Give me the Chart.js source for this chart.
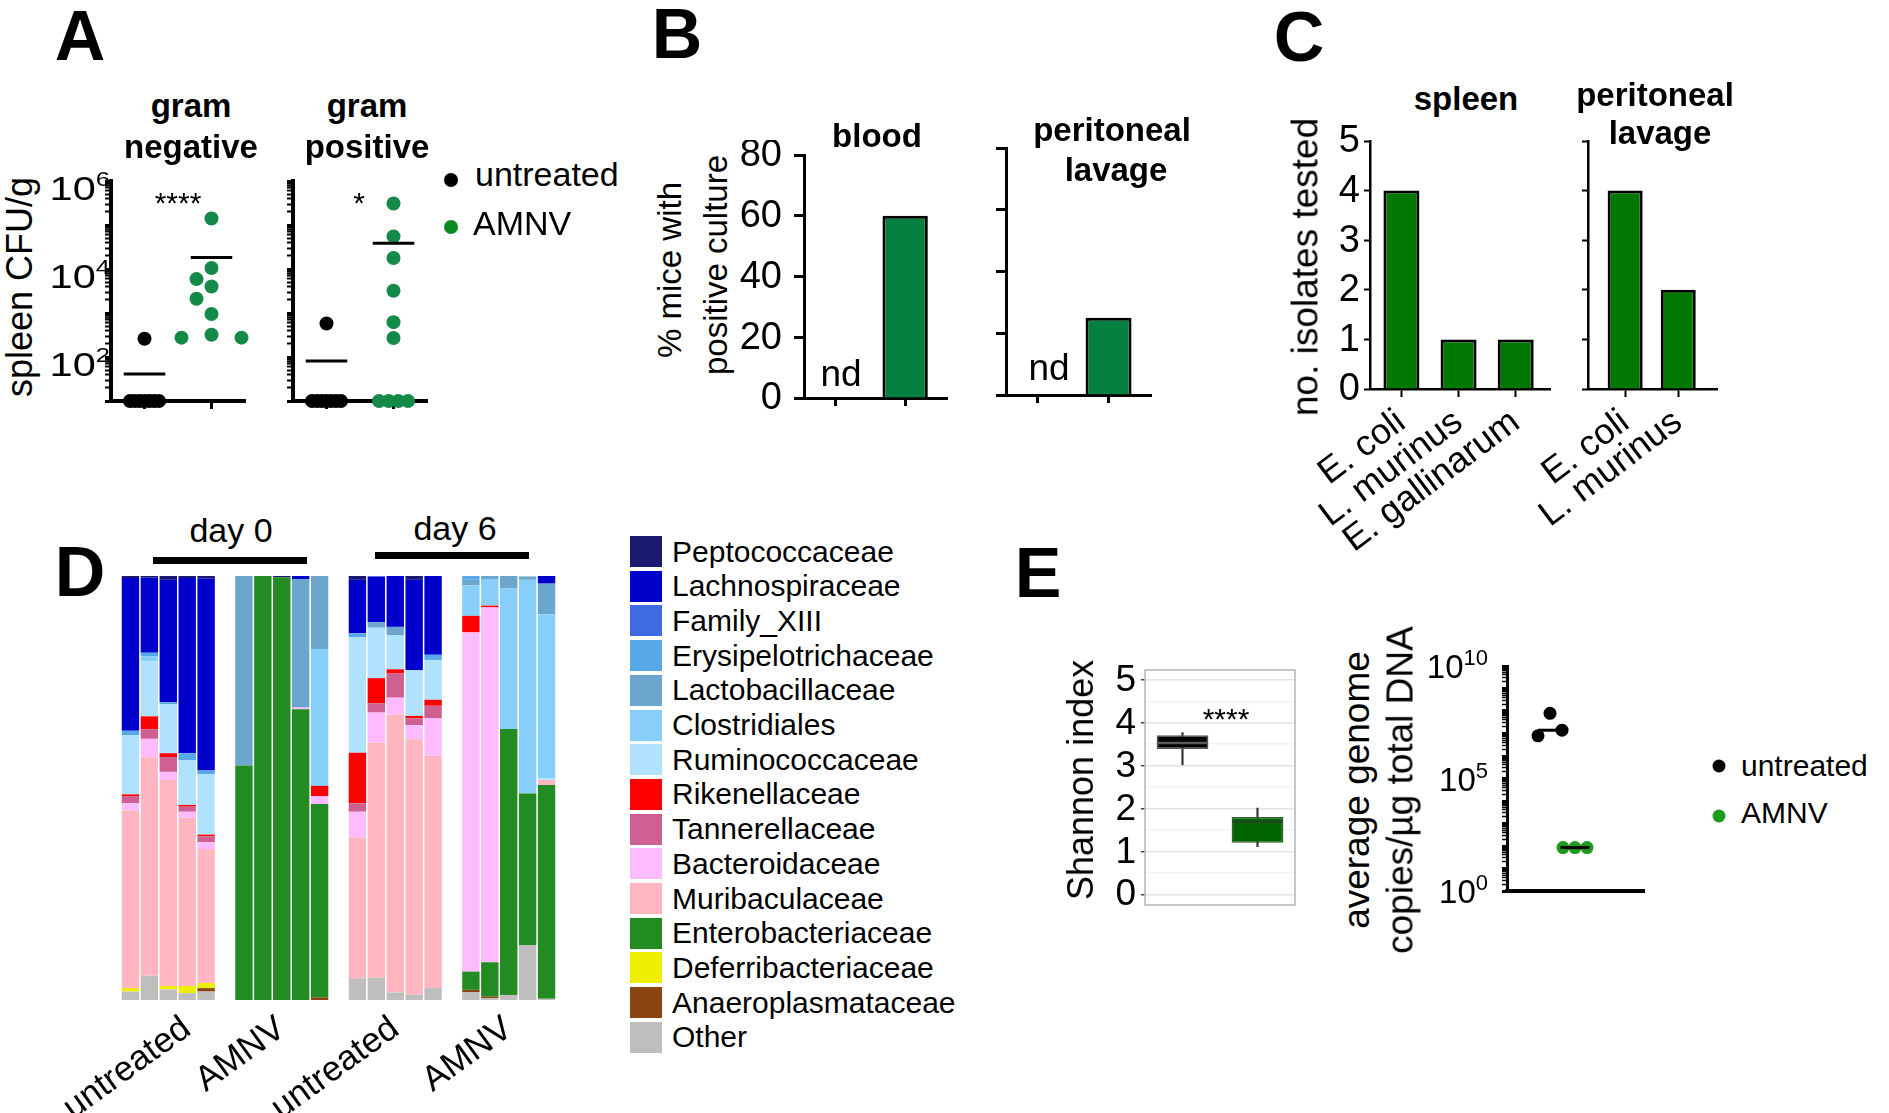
<!DOCTYPE html>
<html>
<head>
<meta charset="utf-8">
<script src="https://cdn.jsdelivr.net/npm/chart.js@4.4.1/dist/chart.umd.min.js"></script>
<style>
  html, body { margin: 0; padding: 0; background: #fff; }
  #fig { position: relative; width: 1889px; height: 1113px; overflow: hidden;
         font-family: "Liberation Sans", Arial, sans-serif; color: #000; }
  #fig canvas { position: absolute; }
  .t { position: absolute; transform: translate(-50%, -50%); white-space: nowrap; line-height: 1; }
  .v { position: absolute; transform: translate(-50%, -50%) rotate(-90deg); white-space: nowrap; line-height: 1; }
  .l { position: absolute; transform: translate(0, -50%); white-space: nowrap; line-height: 1; }
  .dot { position: absolute; border-radius: 50%; transform: translate(-50%, -50%); }
  .blk { position: absolute; }
</style>
</head>
<body>
<div id="fig"></div>
<script>
// ---- data ----
// A: spleen CFU/g per mouse
const gramNegUntreated = [260, 10, 10, 10, 10, 10, 10, 10];
const gramNegAMNV = [141000, 10500, 5900, 4000, 2100, 950, 320, 275, 275];
const gramPosUntreated = [575, 10, 10, 10, 10, 10, 10, 10];
const gramPosAMNV = [309000, 55000, 17800, 3200, 620, 270, 10, 10, 10, 10];
const cfuExps = [2, 4, 6];

// B: % mice with positive culture
const groups = ['untreated', 'AMNV'];
const bloodPct = [0, 60];
const lavagePct = [0, 25];
const pctTicks = [0, 20, 40, 60, 80];

// C: isolates tested
const spleenSpecies = ['E. coli', 'L. murinus', 'E. gallinarum'];
const spleenCounts = [4, 1, 1];
const lavageSpecies = ['E. coli', 'L. murinus'];
const lavageCounts = [4, 2];
const isoTicks = [0, 1, 2, 3, 4, 5];

// D: relative abundance (%), 5 mice per group: untreated d0, AMNV d0, untreated d6, AMNV d6
const groupNames = ['untreated', 'AMNV', 'untreated', 'AMNV'];
const families = ['Peptococcaceae', 'Lachnospiraceae', 'Family_XIII', 'Erysipelotrichaceae',
  'Lactobacillaceae', 'Clostridiales', 'Ruminococcaceae', 'Rikenellaceae', 'Tannerellaceae',
  'Bacteroidaceae', 'Muribaculaceae', 'Enterobacteriaceae', 'Deferribacteriaceae',
  'Anaeroplasmataceae', 'Other'];
const familyColors = ['#191970', '#0000CD', '#4169E1', '#56A8E8', '#6CA6CD', '#87CEFA', '#B0E2FF',
  '#FF0000', '#CD6090', '#FFBBFF', '#FFB6C1', '#228B22', '#EEEE00', '#8B4513', '#BEBEBE'];
const peptococcaceae      = [0.5, 0.5, 0.9, 0.5, 0.7,  0, 0, 0.3, 0, 0,        0.9, 0, 0, 0.9, 0,            0, 0, 0, 0, 0];
const lachnospiraceae     = [36, 17.7, 28.9, 41.3, 45.3,  0, 0, 0, 0.7, 0,     12.6, 10.8, 12, 21.3, 18.6,    0, 0, 0, 0, 1.8];
const familyXIII          = [0, 0, 0, 0, 0,  0, 0, 0, 0, 0,                    0, 0, 0, 0, 0,                 0, 0, 0, 0, 0];
const erysipelotrichaceae = [1, 0.8, 0.4, 1.7, 0.8,  0, 0, 0, 0, 0,            0.9, 0, 0, 0, 1.2,             0.9, 0, 0, 0, 0];
const lactobacillaceae    = [0, 0, 0, 0, 0,  44.7, 0, 0, 30.3, 17.2,           0, 1.3, 2, 0, 0,               1.3, 0.8, 3, 0.8, 7.2];
const clostridiales       = [0, 1.2, 0, 0, 0,  0, 0, 0, 0, 32.3,               0, 0, 0, 0, 0,                 7.2, 6.3, 33.2, 50.4, 38.7];
const ruminococcaceae     = [14, 13, 11.6, 10.5, 14.3,  0, 0, 0, 0, 0,         27.3, 11.9, 8, 10.8, 9.4,      0, 0, 0, 0, 0.4];
const rikenellaceae       = [0.4, 3, 0.9, 0.4, 0.4,  0, 0, 0, 0, 2.4,          11.9, 5.9, 1, 0.6, 1.4,        3.9, 0.4, 0, 0, 0];
const tannerellaceae      = [1.7, 2.3, 3.5, 1.2, 1.4,  0, 0, 0, 0, 0,          2, 2.2, 5.7, 1.6, 3,           0, 0, 0, 0, 0];
const bacteroidaceae      = [1.7, 4.4, 1.9, 1.4, 1.6,  0, 0, 0, 0.4, 1.9,      6.1, 7.1, 4, 3.3, 8.8,         80, 83.7, 0, 0, 0];
const muribaculaceae      = [41.9, 51.5, 48.6, 39.7, 31.6,  0, 0, 0, 0, 0,     33.2, 55.4, 65.5, 60.2, 54.8,  0, 0, 0, 0, 1.2];
const enterobacteriaceae  = [0, 0, 0, 0, 0,  55.3, 100, 99.7, 68.6, 45.6,      0, 0, 0, 0, 0,                 4.3, 8.1, 62.7, 35.7, 50.4];
const deferribacteriaceae = [0.8, 0, 0.8, 1.7, 1.2,  0, 0, 0, 0, 0,            0, 0, 0, 0, 0,                 0, 0, 0, 0, 0];
const anaeroplasmataceae  = [0, 0, 0, 0, 0.8,  0, 0, 0, 0, 0.6,                0, 0, 0, 0, 0,                 0.6, 0.4, 0, 0, 0];
const other               = [2, 5.7, 2.5, 1.6, 2,  0, 0, 0, 0, 0,              5.1, 5.3, 1.8, 1.3, 2.8,       1.8, 0.4, 1.2, 13, 0.3];
const familyValues = [peptococcaceae, lachnospiraceae, familyXIII, erysipelotrichaceae,
  lactobacillaceae, clostridiales, ruminococcaceae, rikenellaceae, tannerellaceae,
  bacteroidaceae, muribaculaceae, enterobacteriaceae, deferribacteriaceae,
  anaeroplasmataceae, other];

// E: Shannon index box stats and genome copies
const shannonMin = [3.02, 1.11];
const shannonQ1 = [3.39, 1.20];
const shannonMedian = [3.53, 1.69];
const shannonQ3 = [3.71, 1.80];
const shannonMax = [3.77, 2.01];
const shannonTicks = [0, 1, 2, 3, 4, 5];
const genomeUntreated = [7.9e7, 7.9e6, 1.4e7];
const genomeAMNV = [85, 85, 85];
const genomeExps = [0, 5, 10];

// ---- helpers ----
const FONT = '"Liberation Sans", Arial, sans-serif';
Chart.defaults.font.family = FONT;
Chart.defaults.color = '#000';
const fig = document.getElementById('fig');

function canvasAt(left, top, w, h) {
  const c = document.createElement('canvas');
  c.width = w; c.height = h;
  c.style.left = left + 'px'; c.style.top = top + 'px';
  c.style.width = w + 'px'; c.style.height = h + 'px';
  fig.appendChild(c);
  return c;
}
function html(cls, text, x, y, size, bold) {
  const d = document.createElement('div');
  d.className = cls;
  d.textContent = text;
  d.style.left = x + 'px'; d.style.top = y + 'px';
  d.style.fontSize = size + 'px';
  if (bold) d.style.fontWeight = 'bold';
  fig.appendChild(d);
  return d;
}
function dot(x, y, r, color) {
  const d = document.createElement('div');
  d.className = 'dot';
  d.style.cssText = `left:${x}px;top:${y}px;width:${2 * r}px;height:${2 * r}px;background:${color}`;
  fig.appendChild(d);
}
function rule(x1, x2, y, h) {
  const d = document.createElement('div');
  d.className = 'blk';
  d.style.cssText = `left:${x1}px;top:${y - h / 2}px;width:${x2 - x1}px;height:${h}px;background:#000`;
  fig.appendChild(d);
}
const fixW = w => s => { s.width = w; };
const fixH = h => s => { s.height = h; };
const at = vals => s => { s.ticks = vals.map(v => ({ value: v })); };
const isPow10 = v => Math.abs(Math.log10(v) - Math.round(Math.log10(v))) < 1e-9;
function logTicks(e0, e1) {
  const t = [];
  for (let e = e0; e < e1; e++) for (let m = 1; m < 10; m++) t.push(m * Math.pow(10, e));
  t.push(Math.pow(10, e1));
  return t;
}
const mean = a => a.reduce((p, q) => p + q, 0) / a.length;
const median = a => { const s = [...a].sort((p, q) => p - q); const n = s.length; return n % 2 ? s[(n - 1) / 2] : (s[n / 2 - 1] + s[n / 2]) / 2; };

// simple beeswarm: offsets (axis units) so dots do not overlap, ties spread evenly
function swarm(vals, pxX, pxY, first, step, minDist) {
  const v = vals.map(a => Math.log10(a));
  const counts = {};
  v.forEach(a => { counts[a] = (counts[a] || 0) + 1; });
  const out = new Array(v.length).fill(0);
  const placed = [];
  const seen = {};
  v.forEach((a, i) => {
    if (counts[a] >= 3) {
      const n = counts[a], k = seen[a] || 0;
      seen[a] = k + 1;
      const st = Math.min(step, 29 / (n - 1));
      out[i] = (k - (n - 1) / 2) * st / pxX;
      placed.push([out[i] * pxX, a * pxY]);
    }
  });
  const order = v.map((a, i) => i).filter(i => counts[v[i]] < 3).sort((i, j) => v[j] - v[i]);
  order.forEach(i => {
    const cands = [0, first * step, -first * step, 2 * first * step, -2 * first * step];
    for (const c of cands) {
      if (placed.every(p => Math.hypot(p[0] - c, p[1] - v[i] * pxY) >= minDist)) {
        out[i] = c / pxX; placed.push([c, v[i] * pxY]); break;
      }
    }
  });
  return out;
}

// y tick labels drawn at the scale's own pixels (keeps the plot area fixed)
const yLabels = {
  id: 'yLabels',
  afterDraw(chart, args, o) {
    if (!o.values) return;
    const y = chart.scales.y, ctx = chart.ctx;
    const sx = o.stretch || 1;
    ctx.save();
    ctx.fillStyle = '#000';
    ctx.textBaseline = 'middle';
    o.values.forEach(v => {
      const py = y.getPixelForValue(o.pow ? Math.pow(10, v) : v);
      const xr = chart.chartArea.left - o.gap;
      if (o.pow) {
        ctx.font = o.sup + 'px ' + FONT;
        const ew = ctx.measureText(String(v)).width * sx;
        ctx.save();
        ctx.translate(xr - ew, 0);
        ctx.scale(sx, 1);
        ctx.textAlign = 'left';
        ctx.fillText(String(v), 0, py + o.dy - o.rise);
        ctx.font = o.size + 'px ' + FONT;
        ctx.textAlign = 'right';
        ctx.fillText('10', 0, py + o.dy);
        ctx.restore();
      } else {
        ctx.font = o.size + 'px ' + FONT;
        ctx.textAlign = 'right';
        ctx.fillText(String(v), xr, py + (o.dy || 0));
      }
    });
    ctx.restore();
  }
};

const base = { responsive: false, animation: false, events: [], devicePixelRatio: 1 };
const quiet = { legend: { display: false }, tooltip: { enabled: false } };

// ---- A: spleen CFU ----
function cfuChart(cv, untreated, amnv, yw, pad, labels) {
  const oU = swarm(untreated, 67, 44, -1, 15, 15.5);
  const oA = swarm(amnv, 67, 44, -1, 15, 15.5);
  const mU = mean(untreated), mA = mean(amnv);
  new Chart(cv, {
    type: 'scatter',
    data: {
      datasets: [
        { data: [{ x: -0.31, y: mU }, { x: 0.31, y: mU }], showLine: true, borderColor: '#000', borderWidth: 3, pointRadius: 0, clip: false, order: 0 },
        { data: [{ x: 0.69, y: mA }, { x: 1.31, y: mA }], showLine: true, borderColor: '#000', borderWidth: 3, pointRadius: 0, clip: false, order: 0 },
        { data: untreated.map((v, i) => ({ x: oU[i], y: v })), pointBackgroundColor: '#000', pointBorderWidth: 0, pointRadius: 7, clip: false, order: 1 },
        { data: amnv.map((v, i) => ({ x: 1 + oA[i], y: v })), pointBackgroundColor: '#138A48', pointBorderWidth: 0, pointRadius: 7, clip: false, order: 1 }
      ]
    },
    options: Object.assign({}, base, {
      layout: { padding: pad },
      plugins: Object.assign({ yLabels: labels || {} }, quiet),
      scales: {
        x: {
          type: 'linear', min: -0.5, max: 1.5, afterFit: fixH(19), afterBuildTicks: at([0, 1]),
          ticks: { display: false },
          grid: { drawOnChartArea: false, tickLength: 8, tickWidth: 3, color: '#000' },
          border: { color: '#000', width: 4 }
        },
        y: {
          type: 'logarithmic', min: 10, max: 1e6, afterFit: fixW(yw), afterBuildTicks: at(logTicks(1, 6)),
          ticks: { display: false },
          grid: { drawOnChartArea: false, tickLength: 6, color: '#000', tickWidth: c => (c.tick && isPow10(c.tick.value)) ? 3 : 2 },
          border: { color: '#000', width: 4 }
        }
      }
    }),
    plugins: [yLabels]
  });
}
cfuChart(canvasAt(40, 160, 220, 260), gramNegUntreated, gramNegAMNV, 71, { top: 21, right: 15 },
  { values: cfuExps, pow: true, size: 34, sup: 21, stretch: 1.22, gap: 1, dy: 10, rise: 11 });
cfuChart(canvasAt(270, 160, 170, 260), gramPosUntreated, gramPosAMNV, 23, { top: 21, right: 13 });

// ---- B: % positive culture ----
function pctChart(cv, vals, yw, pad, xh, labels) {
  new Chart(cv, {
    type: 'bar',
    data: { datasets: [{ data: vals.map((v, i) => ({ x: i, y: v })), backgroundColor: '#068040', borderColor: '#000', borderWidth: 3, barPercentage: 0.65, categoryPercentage: 1 }] },
    options: Object.assign({}, base, {
      layout: { padding: pad }, plugins: Object.assign({ yLabels: labels || {} }, quiet),
      scales: {
        x: { type: 'linear', offset: false, min: -0.45, max: 1.6, afterFit: fixH(xh), afterBuildTicks: at([0, 1]),
             ticks: { display: false },
             grid: { offset: false, drawOnChartArea: false, tickLength: 8, tickWidth: 3, color: '#000' },
             border: { color: '#000', width: 3 } },
        y: { min: 0, max: 80, afterFit: fixW(yw), afterBuildTicks: at(pctTicks), ticks: { display: false },
             grid: { drawOnChartArea: false, tickLength: 10, tickWidth: 3, color: '#000' },
             border: { color: '#000', width: 3 } }
      }
    }),
    plugins: [yLabels]
  });
}
pctChart(canvasAt(740, 140, 220, 290), bloodPct, 64, { top: 15, right: 13 }, 32, { values: pctTicks, size: 38, gap: 22, dy: 1 });
pctChart(canvasAt(990, 130, 175, 300), lavagePct, 16, { top: 18, right: 14 }, 35);

// ---- C: isolates ----
function isoChart(cv, names, vals, yw, pad, xmin, xmax, barPct, labels) {
  new Chart(cv, {
    type: 'bar',
    data: { datasets: [{ data: vals.map((v, i) => ({ x: i, y: v })), backgroundColor: '#007800', borderColor: '#000', borderWidth: 3, barPercentage: barPct, categoryPercentage: 1 }] },
    options: Object.assign({}, base, {
      layout: { padding: pad }, plugins: Object.assign({ yLabels: labels || {} }, quiet),
      scales: {
        x: { type: 'linear', offset: false, min: xmin, max: xmax, afterFit: fixH(176),
             afterBuildTicks: at(names.map((n, i) => i)),
             ticks: { font: { size: 36 }, color: '#000', minRotation: 37, maxRotation: 37, autoSkip: false, padding: 4,
                      callback: v => names[v] },
             grid: { offset: false, drawOnChartArea: false, tickLength: 8, tickWidth: 2, color: '#000' },
             border: { color: '#000', width: 2.5 } },
        y: { min: 0, max: 5, afterFit: fixW(yw), afterBuildTicks: at(isoTicks), ticks: { display: false },
             grid: { drawOnChartArea: false, tickLength: 6, tickWidth: 2, color: '#000' },
             border: { color: '#000', width: 2.5 } }
      }
    }),
    plugins: [yLabels]
  });
}
isoChart(canvasAt(1300, 125, 265, 440), spleenSpecies, spleenCounts, 70, { top: 16, right: 15 }, -0.55, 2.6, 0.63,
  { values: isoTicks, size: 38, gap: 10, dy: 1 });
isoChart(canvasAt(1520, 125, 210, 440), lavageSpecies, lavageCounts, 68, { top: 16, right: 13 }, -0.7, 1.73, 0.66);

// ---- D: stacked composition ----
const slotOf = i => i + Math.floor(i / 5);          // a blank slot between groups
const nSlots = slotOf(19) + 1;
const dLabels = Array.from({ length: nSlots }, () => '');
groupNames.forEach((g, k) => { dLabels[slotOf(k * 5 + (g.length > 4 && k === 0 ? 3 : 2))] = g; });
const dDatasets = families.map((f, k) => {
  const data = new Array(nSlots).fill(null);
  familyValues[k].forEach((v, i) => { data[slotOf(i)] = v; });
  return { label: f, data: data, backgroundColor: familyColors[k], borderWidth: 0, barPercentage: 0.92, categoryPercentage: 1 };
}).reverse();
new Chart(canvasAt(0, 560, 600, 553), {
  type: 'bar',
  data: { labels: dLabels, datasets: dDatasets },
  options: Object.assign({}, base, {
    layout: { padding: { left: 121, top: 16, right: 44 } }, plugins: quiet,
    scales: {
      x: { stacked: true, afterFit: fixH(113), grid: { display: false }, border: { display: false },
           ticks: { font: { size: 35 }, color: '#000', minRotation: 36, maxRotation: 36, autoSkip: false, padding: 0 } },
      y: { stacked: true, display: false, min: 0, max: 100 }
    }
  })
});

// ---- E: Shannon index box plot ----
const boxExtras = {
  id: 'boxExtras',
  beforeDatasetsDraw(chart) {
    const a = chart.chartArea, ctx = chart.ctx;
    ctx.save();
    ctx.strokeStyle = '#B5B5B5'; ctx.lineWidth = 1.5;
    ctx.strokeRect(a.left, a.top, a.right - a.left, a.bottom - a.top);
    ctx.restore();
  },
  afterDatasetsDraw(chart) {
    const ctx = chart.ctx, y = chart.scales.y;
    const meta = chart.getDatasetMeta(0);
    ctx.save();
    meta.data.forEach((bar, i) => {
      const py = y.getPixelForValue(shannonMedian[i]);
      ctx.strokeStyle = i ? '#1F4A1F' : '#5A5A5A';
      ctx.lineWidth = 2.5;
      ctx.beginPath();
      ctx.moveTo(bar.x - bar.width / 2 + 1, py); ctx.lineTo(bar.x + bar.width / 2 - 1, py);
      ctx.stroke();
    });
    ctx.restore();
  }
};
new Chart(canvasAt(1080, 655, 230, 265), {
  type: 'bar',
  data: {
    labels: groups,
    datasets: [
      { data: groups.map((g, i) => [shannonQ1[i], shannonQ3[i]]), backgroundColor: ['#000000', '#006400'],
        borderColor: ['#555555', '#2F5F2F'], borderWidth: 1.5, borderSkipped: false,
        barPercentage: 0.69, categoryPercentage: 1, grouped: false, order: 0 },
      { data: groups.map((g, i) => [shannonMin[i], shannonMax[i]]), backgroundColor: '#333333',
        barThickness: 1.5, grouped: false, order: 1 }
    ]
  },
  options: Object.assign({}, base, {
    layout: { padding: { top: 15, right: 15, bottom: 15 } },
    plugins: Object.assign({ yLabels: { values: shannonTicks, size: 37, gap: 9, dy: 1 } }, quiet),
    scales: {
      x: { display: false },
      y: { min: -0.25, max: 5.23, afterFit: fixW(65),
           afterBuildTicks: s => { s.ticks = Array.from({ length: 11 }, (_, k) => ({ value: k / 2 })); },
           ticks: { display: false },
           grid: { color: c => Number.isInteger(c.tick.value) ? '#E4E4E4' : '#F2F2F2', lineWidth: 1.5,
                   tickLength: 4, tickColor: c => Number.isInteger(c.tick.value) ? '#444' : 'rgba(0,0,0,0)' },
           border: { display: false } }
    }
  }),
  plugins: [boxExtras, yLabels]
});

// ---- E: genome copies ----
(function () {
  const pxX = 25;
  const oU = swarm(genomeUntreated, pxX, 22.5, 1, 12, 17);
  const oA = swarm(genomeAMNV, pxX, 22.5, 1, 12, 17);
  const mU = median(genomeUntreated), mA = median(genomeAMNV);
  new Chart(canvasAt(1410, 650, 250, 260), {
    type: 'scatter',
    data: {
      datasets: [
        { data: [{ x: -0.48, y: mU }, { x: 0.48, y: mU }], showLine: true, borderColor: '#000', borderWidth: 3, pointRadius: 0, clip: false, order: 0 },
        { data: [{ x: 0.42, y: mA }, { x: 1.58, y: mA }], showLine: true, borderColor: '#000', borderWidth: 3, pointRadius: 0, clip: false, order: 0 },
        { data: genomeUntreated.map((v, i) => ({ x: oU[i], y: v })), pointBackgroundColor: '#000', pointBorderWidth: 0, pointRadius: 6.5, clip: false, order: 1 },
        { data: genomeAMNV.map((v, i) => ({ x: 1 + oA[i], y: v })), pointBackgroundColor: '#1E9A1E', pointBorderWidth: 0, pointRadius: 6.5, clip: false, order: 1 }
      ]
    },
    options: Object.assign({}, base, {
      layout: { padding: { top: 16, right: 16 } },
      plugins: Object.assign({ yLabels: { values: genomeExps, pow: true, size: 33, sup: 22, gap: 19, dy: 3, rise: 10 } }, quiet),
      scales: {
        x: { type: 'linear', min: -1.72, max: 3.76, afterFit: fixH(19), ticks: { display: false },
             grid: { drawOnChartArea: false, drawTicks: false }, border: { color: '#000', width: 4 } },
        y: { type: 'logarithmic', min: 1, max: 1e10, afterFit: fixW(97), afterBuildTicks: at(logTicks(0, 10)),
             ticks: { display: false },
             grid: { drawOnChartArea: false, tickLength: 5, color: '#000', tickWidth: c => (c.tick && isPow10(c.tick.value)) ? 3 : 1.5 },
             border: { color: '#000', width: 3 } }
      }
    }),
    plugins: [yLabels]
  });
})();

// ---- text: panel letters, titles, axis labels, legends ----
[['A', 80, 36], ['B', 677, 34], ['C', 1299, 37], ['D', 80, 572], ['E', 1038, 573]]
  .forEach(p => html('t', p[0], p[1], p[2], 70, true));

html('t', 'gram', 191, 105, 33, true);
html('t', 'negative', 191, 146, 33, true);
html('t', 'gram', 367, 105, 33, true);
html('t', 'positive', 367, 146, 33, true);
html('v', 'spleen CFU/g', 20, 287, 36);
html('t', '****', 178, 203, 30);
html('t', '*', 359, 203, 30);
dot(451, 180, 7, '#000');
html('l', 'untreated', 475, 174, 34);
dot(451, 227, 7, '#0C8A22');
html('l', 'AMNV', 473, 223, 34);

html('t', 'blood', 877, 135, 33, true);
html('t', 'peritoneal', 1112, 129, 33, true);
html('t', 'lavage', 1116, 169, 33, true);
html('v', '% mice with', 669, 270, 33);
html('v', 'positive culture', 715, 265, 33);
html('t', 'nd', 841, 373, 37);
html('t', 'nd', 1049, 367, 37);

html('t', 'spleen', 1466, 98, 33, true);
html('t', 'peritoneal', 1655, 94, 33, true);
html('t', 'lavage', 1660, 132, 33, true);
html('v', 'no. isolates tested', 1305, 267, 37);

html('t', 'day 0', 231, 530, 34);
rule(153, 307, 560, 7);
html('t', 'day 6', 455, 528, 34);
rule(375, 529, 555, 7);
families.forEach((f, k) => {
  const top = 536 + k * 34.7;
  const sq = document.createElement('div');
  sq.className = 'blk';
  sq.style.cssText = `left:630px;top:${top}px;width:32px;height:31px;background:${familyColors[k]}`;
  fig.appendChild(sq);
  html('l', f, 672, top + 15.5, 30);
});

html('v', 'Shannon index', 1081, 780, 36);
html('t', '****', 1226, 719, 30);
html('v', 'average genome', 1356, 790, 37);
html('v', 'copies/\u00b5g total DNA', 1400, 790, 37);
dot(1719, 766, 6.5, '#000');
html('l', 'untreated', 1741, 766, 30);
dot(1719, 816, 6.5, '#1E9A1E');
html('l', 'AMNV', 1741, 813, 30);
</script>
</body>
</html>
